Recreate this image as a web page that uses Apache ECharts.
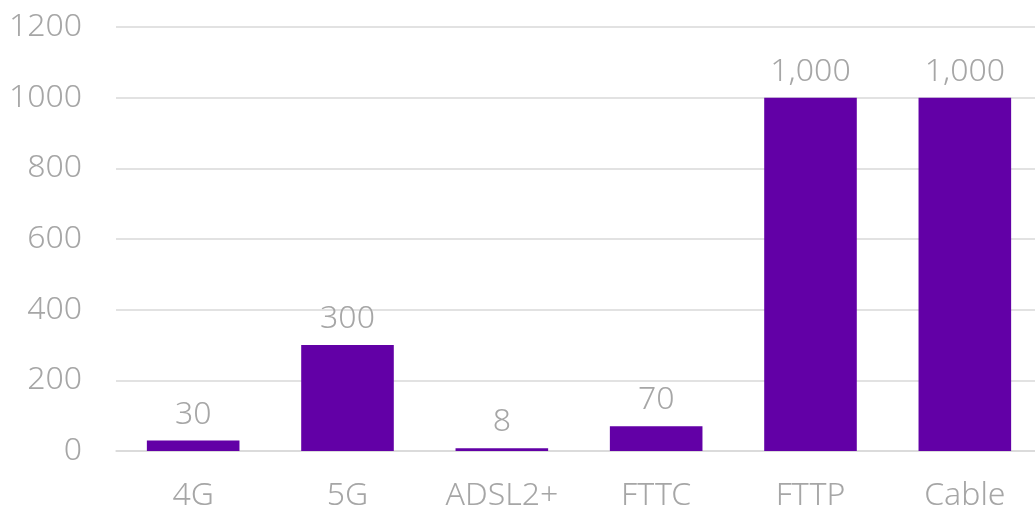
<!DOCTYPE html>
<html><head><meta charset="utf-8">
<script src="https://cdn.jsdelivr.net/npm/echarts@6/dist/echarts.min.js"></script>
<style>html,body{margin:0;padding:0;background:#fff;overflow:hidden}#c{width:1035px;height:510px}</style>
</head><body><div id="c"></div>
<script>
const categories = ['4G','5G','ADSL2+','FTTC','FTTP','Cable'];
const values = [30,300,8,70,1000,1000];
const yMin = 0, yMax = 1200, yInterval = 200;
const FONT = 'Noto Sans';
const chart = echarts.init(document.getElementById('c'));
chart.setOption({
  animation:false,
  grid:{left:116,right:-7,top:27,bottom:59,containLabel:false,outerBoundsMode:'none'},
  xAxis:{type:'category',data:categories,
    axisLine:{lineStyle:{color:'#D9D9D9',width:1.5}},axisTick:{show:false},
    axisLabel:{color:'#A6A6A6',fontSize:32,fontFamily:FONT,fontWeight:300,margin:29}},
  yAxis:{type:'value',min:yMin,max:yMax,interval:yInterval,
    axisLine:{show:false},axisTick:{show:false},
    splitLine:{lineStyle:{color:'#D9D9D9',width:1.5}},
    axisLabel:{color:'#A6A6A6',fontSize:32,fontFamily:FONT,fontWeight:300,margin:34,formatter:v=>String(v)}},
  series:[{type:'bar',data:values,barWidth:'60%',
    itemStyle:{color:'#6200A6'},
    label:{show:true,position:'top',distance:10,color:'#A6A6A6',fontSize:32,fontFamily:FONT,fontWeight:300,
      formatter:p=>p.value.toLocaleString('en-US')}}]
});
</script></body></html>
